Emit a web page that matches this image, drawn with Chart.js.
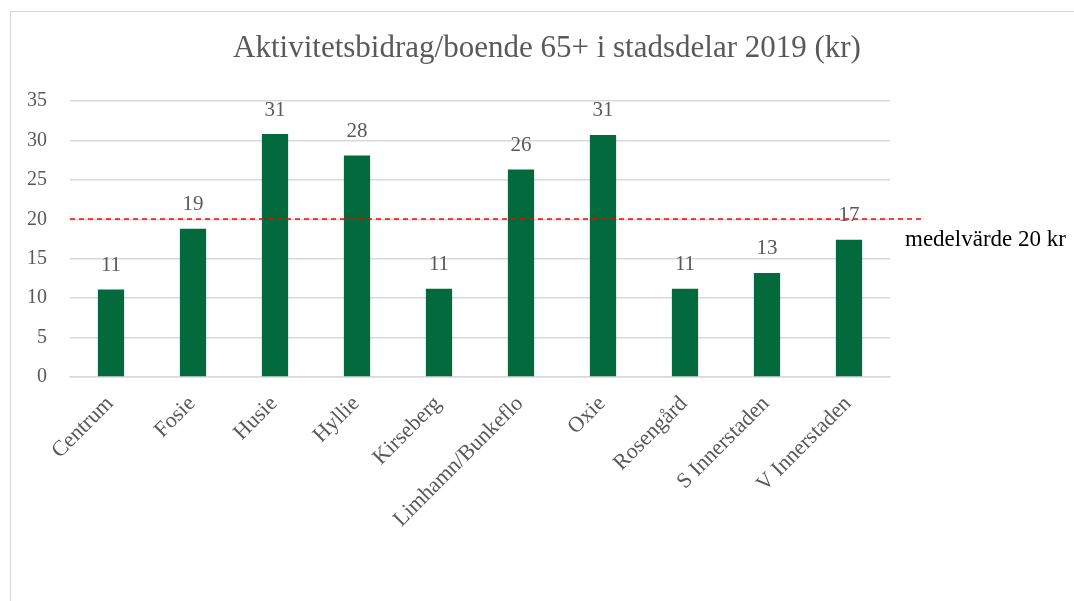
<!DOCTYPE html>
<html>
<head>
<meta charset="utf-8">
<script src="https://cdn.jsdelivr.net/npm/chart.js@4/dist/chart.umd.min.js"></script>
<style>
  html, body { margin: 0; padding: 0; background: #fff; overflow: hidden; }
  #frame { position: absolute; left: 10px; top: 11px; width: 1080px; height: 600px; border: 1px solid #d9d9d9; }
  #wrap { position: absolute; left: 0; top: 0; width: 1074px; height: 601px; }
</style>
</head>
<body>
<div id="frame"></div>
<div id="wrap"><canvas id="chart"></canvas></div>
<script>
const categories = ["Centrum", "Fosie", "Husie", "Hyllie", "Kirseberg", "Limhamn/Bunkeflo", "Oxie", "Rosengård", "S Innerstaden", "V Innerstaden"];
const values = [11.1, 18.8, 30.8, 28.1, 11.2, 26.3, 30.7, 11.2, 13.2, 17.4];
const yTicks = [0, 5, 10, 15, 20, 25, 30, 35];
const meanValue = 20;
const meanLabel = "medelvärde 20 kr";
const titleText = "Aktivitetsbidrag/boende 65+ i stadsdelar 2019 (kr)";

const serif = "'Liberation Serif', 'DejaVu Serif', serif";

// title centred on the whole canvas
const titlePlugin = {
  id: "titlePlugin",
  afterDraw(chart) {
    const ctx = chart.ctx;
    ctx.save();
    ctx.font = "31px " + serif;
    ctx.fillStyle = "#595959";
    ctx.textAlign = "center";
    ctx.textBaseline = "middle";
    ctx.fillText(titleText, chart.width / 2 + 10, 49);
    ctx.restore();
  }
};

// labels above the bars
const valueLabels = {
  id: "valueLabels",
  afterDatasetsDraw(chart) {
    const ctx = chart.ctx;
    const meta = chart.getDatasetMeta(0);
    ctx.save();
    ctx.font = "21px " + serif;
    ctx.fillStyle = "#595959";
    ctx.textAlign = "center";
    ctx.textBaseline = "middle";
    meta.data.forEach((bar, i) => {
      ctx.fillText(Math.round(values[i]), bar.x, bar.y - 24);
    });
    ctx.restore();
  }
};

// dashed mean line + label
const meanLine = {
  id: "meanLine",
  afterDatasetsDraw(chart) {
    const ctx = chart.ctx;
    const area = chart.chartArea;
    const y = Math.round(chart.scales.y.getPixelForValue(meanValue));
    ctx.save();
    ctx.strokeStyle = "#ff0000";
    ctx.lineWidth = 1.5;
    ctx.setLineDash([5, 4]);
    ctx.beginPath();
    ctx.moveTo(area.left, y);
    ctx.lineTo(area.right + 35, y);
    ctx.stroke();
    ctx.setLineDash([]);
    ctx.font = "23px " + serif;
    ctx.fillStyle = "#000";
    ctx.textAlign = "left";
    ctx.textBaseline = "middle";
    ctx.fillText(meanLabel, area.right + 15, y + 21);
    ctx.restore();
  }
};

new Chart(document.getElementById("chart"), {
  type: "bar",
  data: {
    labels: categories,
    datasets: [{
      data: values,
      backgroundColor: "#036a3d",
      barPercentage: 0.32,
      categoryPercentage: 1
    }]
  },
  options: {
    responsive: true,
    maintainAspectRatio: false,
    animation: false,
    layout: { padding: { left: 22, right: 184, top: 101, bottom: 74 } },
    plugins: {
      legend: { display: false },
      tooltip: { enabled: false },
      title: { display: false }
    },
    scales: {
      x: {
        afterFit(axis) { axis.height = 150; axis.paddingLeft = 0; axis.paddingRight = 0; },
        grid: { display: false },
        border: { color: "#d9d9d9", width: 1.5 },
        ticks: {
          color: "#595959",
          font: { family: serif, size: 22 },
          minRotation: 45,
          maxRotation: 45,
          padding: 6,
          labelOffset: -1
        }
      },
      y: {
        min: 0,
        max: 35,
        afterBuildTicks(axis) { axis.ticks = yTicks.map(v => ({ value: v })); },
        afterFit(axis) { axis.width = 48; axis.paddingTop = 0; axis.paddingBottom = 0; },
        grid: { color: "#d9d9d9", lineWidth: 1.5, drawTicks: false },
        border: { display: false },
        ticks: {
          color: "#595959",
          font: { family: serif, size: 20 },
          padding: 23
        }
      }
    }
  },
  plugins: [valueLabels, meanLine, titlePlugin]
});
</script>
</body>
</html>
